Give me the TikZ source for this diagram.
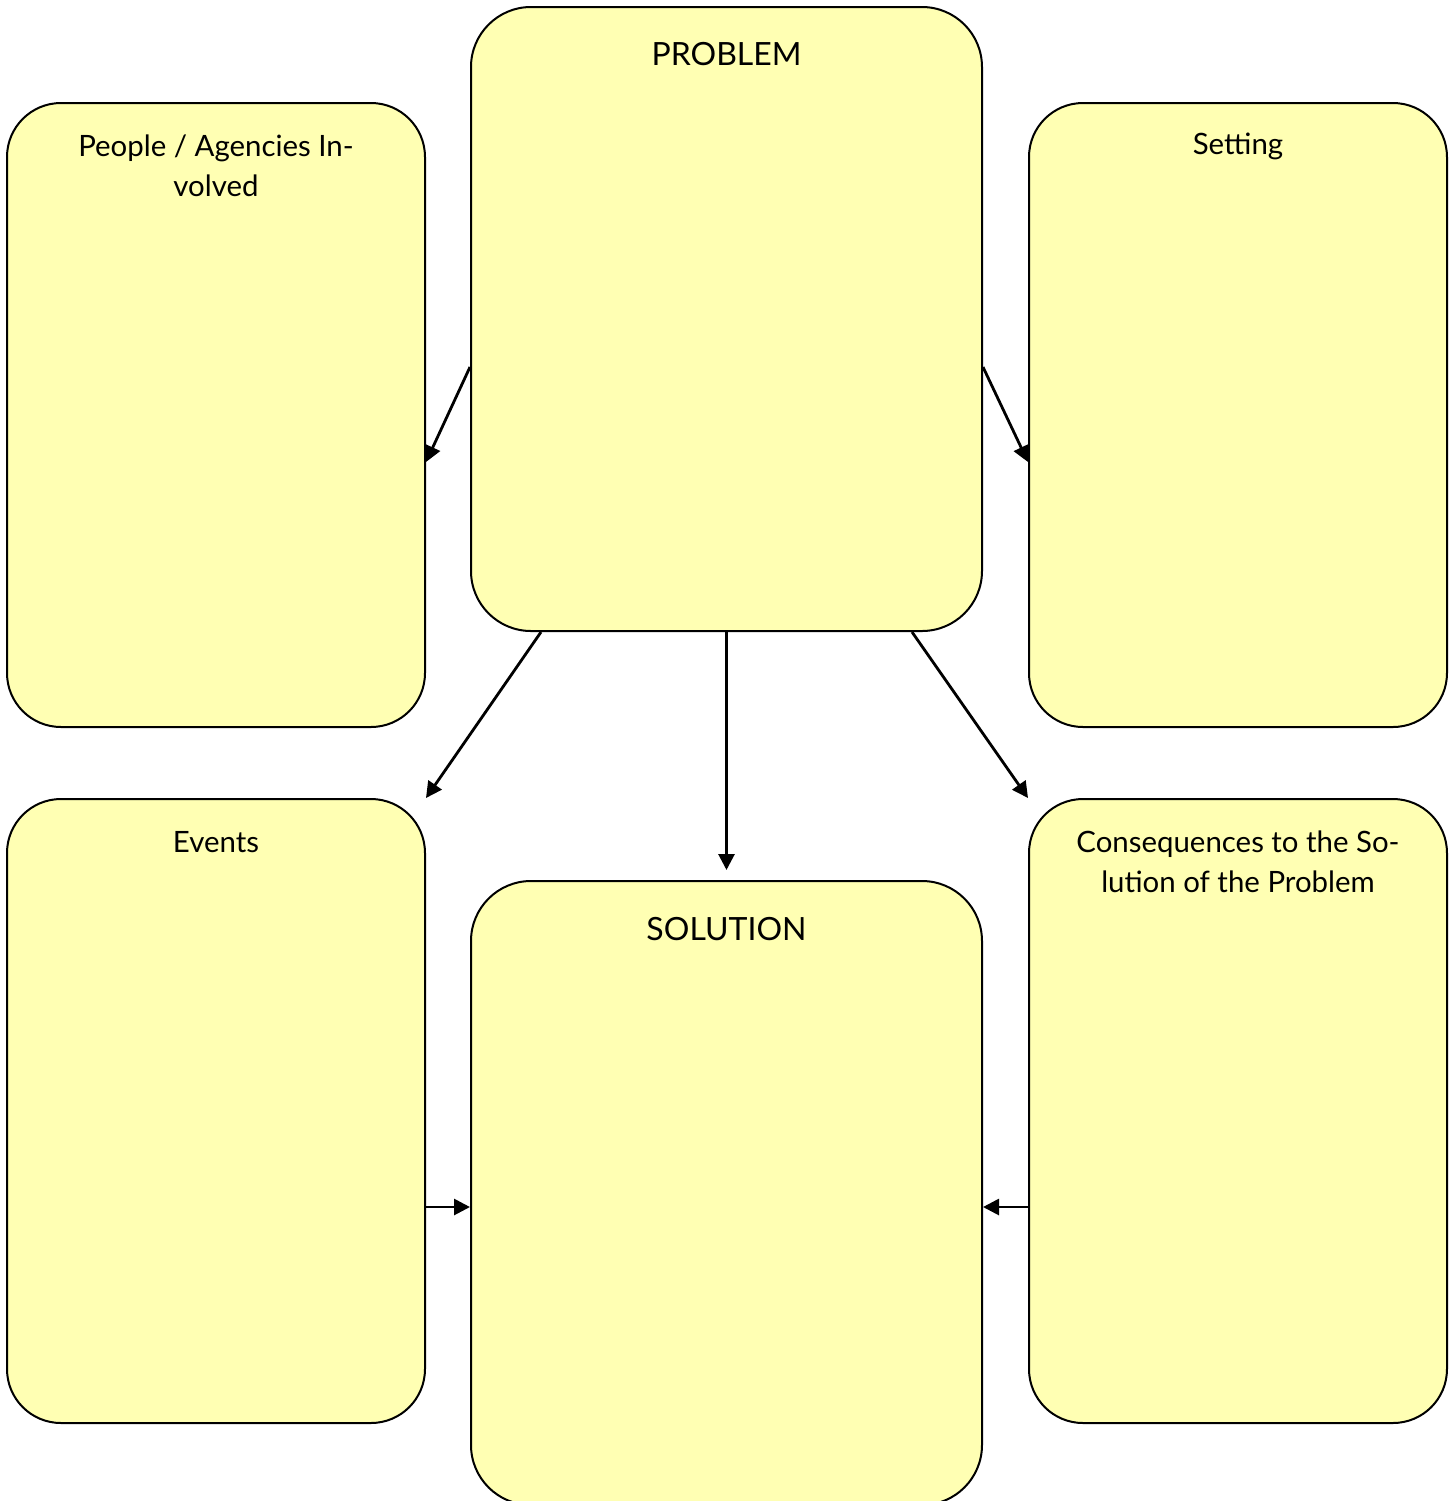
\documentclass[tikz,border=0pt]{standalone}
\usepackage{fontspec}
\setmainfont{Lato}
\usetikzlibrary{arrows.meta}
\definecolor{boxfill}{HTML}{FFFFB3}
\tikzset{
  card/.style={draw=black, line width=1pt, fill=boxfill, rounded corners=27pt, inner sep=0pt},
  bigcard/.style={card, minimum width=255.5pt, minimum height=312pt, rounded corners=30pt},
  smallcard/.style={card, minimum width=209pt, minimum height=312pt},
  heading/.style={align=center, font=\fontsize{14.7}{20}\selectfont, inner sep=0pt},
  title/.style={align=center, font=\fontsize{16}{20}\selectfont, inner sep=0pt},
  arr/.style={line width=1.4pt, -{Triangle[length=8pt,width=8pt]}}
}
\begin{document}
\begin{tikzpicture}
\useasboundingbox (0pt,0pt) rectangle (726.5pt,-750.5pt);
\begin{scope}
\clip (0pt,0pt) rectangle (726.5pt,-750.5pt);
\node[bigcard] (prob) at (363.25pt,-159.5pt) {};
\node[smallcard] (ppl) at (108pt,-207.5pt) {};
\node[smallcard] (set) at (619pt,-207.5pt) {};
\node[smallcard] (ev) at (108pt,-555.5pt) {};
\node[smallcard] (cons) at (619pt,-555.5pt) {};
\node[bigcard] (sol) at (363.25pt,-596.5pt) {};
\end{scope}

\node[title] (tprob) at ([yshift=-24pt]prob.north) {PROBLEM};
\node[title] (tsol) at ([yshift=-24.5pt]sol.north) {SOLUTION};
\node[heading] (tppl) at ([yshift=-32pt]ppl.north) {People / Agencies In-\\volved};
\node[heading] (tset) at ([yshift=-22pt]set.north) {Setting};
\node[heading] (tev) at ([yshift=-22pt]ev.north) {Events};
\node[heading] (tcons) at ([yshift=-32pt]cons.north) {Consequences to the So-\\lution of the Problem};

\draw[arr] ([yshift=-24pt]prob.west) -- ([yshift=-23.5pt]ppl.east);
\draw[arr] ([yshift=-24pt]prob.east) -- ([yshift=-23.5pt]set.east -| set.west);
\draw[arr] ([xshift=-92.75pt]prob.south) -- (ev.north east);
\draw[arr] (prob.south) -- ([yshift=5pt]sol.north);
\draw[arr] ([xshift=92.75pt]prob.south) -- (cons.north west);
\coordinate (e1) at ([yshift=-48pt]ev.east);
\coordinate (c1) at ([yshift=-48pt]cons.west);
\draw[arr] (e1) -- (e1 -| sol.west);
\draw[arr] (c1) -- (c1 -| sol.east);
\end{tikzpicture}
\end{document}
